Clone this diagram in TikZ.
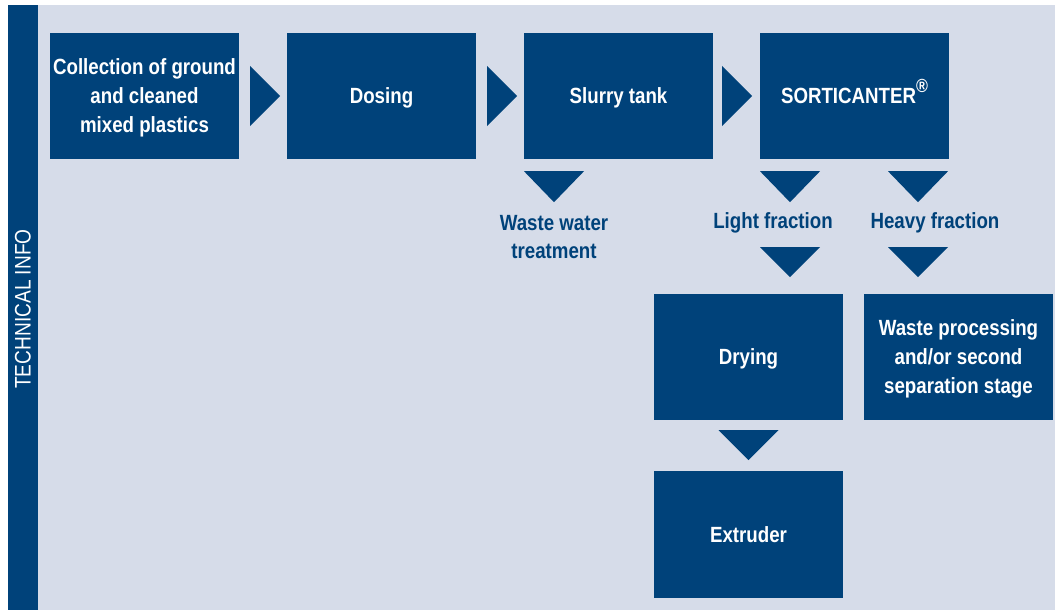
\documentclass[tikz,border=0pt]{standalone}
\usepackage{fontspec}
\setmainfont{Liberation Sans}[FakeStretch=0.85]
\usetikzlibrary{calc}
\definecolor{dblue}{RGB}{0,66,122}
\definecolor{lblue}{RGB}{214,220,233}
\begin{document}
\begin{tikzpicture}[x=1pt,y=-1pt,
  box/.style={fill=dblue, text=white, minimum width=189pt, minimum height=126pt,
    inner sep=0pt, align=center, text depth=0pt, font=\fontsize{22}{29}\selectfont\bfseries},
  lbl/.style={text=dblue, align=center, inner sep=0pt,
    font=\fontsize{22}{28.5}\selectfont\bfseries},
  tri/.style={fill=dblue}]
\useasboundingbox (0,0) rectangle (1055,610);
\fill[white] (0,0) rectangle (1055,610);
\fill[lblue] (38,5) rectangle (1055,610);
\fill[dblue] (8,5) rectangle (38,610);
\node[rotate=90, text=white, inner sep=0pt, font=\fontsize{22.5}{26}\selectfont] (techinfo) at (23,309) {TECHNICAL INFO};

\node[box] (collect) at (144.5,96) {Collection of ground\\and cleaned\\mixed plastics};
\node[box] (dosing) at (381.5,96) {Dosing};
\node[box] (slurry) at (618.5,96) {Slurry tank};
\node[box] (sorti) at (854.5,96) {SORTICANTER\smash{\raisebox{11pt}{\fontsize{19}{19}\selectfont\textregistered}}};
\node[box] (drying) at (748.5,357) {Drying};
\node[box] (wasteproc) at (958.5,357) {Waste processing\\and/or second\\separation stage};
\node[box, minimum height=127pt] (extruder) at (748.5,534.5) {Extruder};

\node[lbl] (wastewater) at (554,237) {Waste water\\treatment};
\node[lbl, anchor=base] (light) at (773,228) {Light fraction};
\node[lbl, anchor=base] (heavy) at (935,228) {Heavy fraction};

% right-pointing arrows
\fill[tri] ($(collect.east)+(11,-30)$) -- ++(30,30) -- ++(-30,30) -- cycle;
\fill[tri] ($(dosing.east)+(11,-30)$) -- ++(30,30) -- ++(-30,30) -- cycle;
\fill[tri] ($(slurry.east)+(9,-30)$) -- ++(30,30) -- ++(-30,30) -- cycle;

% down-pointing arrows
\fill[tri] ($(slurry.south -| wastewater.center)+(-30,12)$) -- ++(60,0) -- ++(-30,31) -- cycle;
\fill[tri] ($(sorti.south)+(-94.5,12)$) -- ++(60,0) -- ++(-30,31) -- cycle;
\fill[tri] ($(sorti.south)+(33.5,12)$) -- ++(60,0) -- ++(-30,31) -- cycle;
\fill[tri] ($(sorti.south)+(-94.5,88)$) -- ++(60,0) -- ++(-30,30) -- cycle;
\fill[tri] ($(sorti.south)+(33.5,88)$) -- ++(60,0) -- ++(-30,30) -- cycle;
\fill[tri] ($(drying.south)+(-30,10)$) -- ++(60,0) -- ++(-30,30) -- cycle;
\end{tikzpicture}
\end{document}
